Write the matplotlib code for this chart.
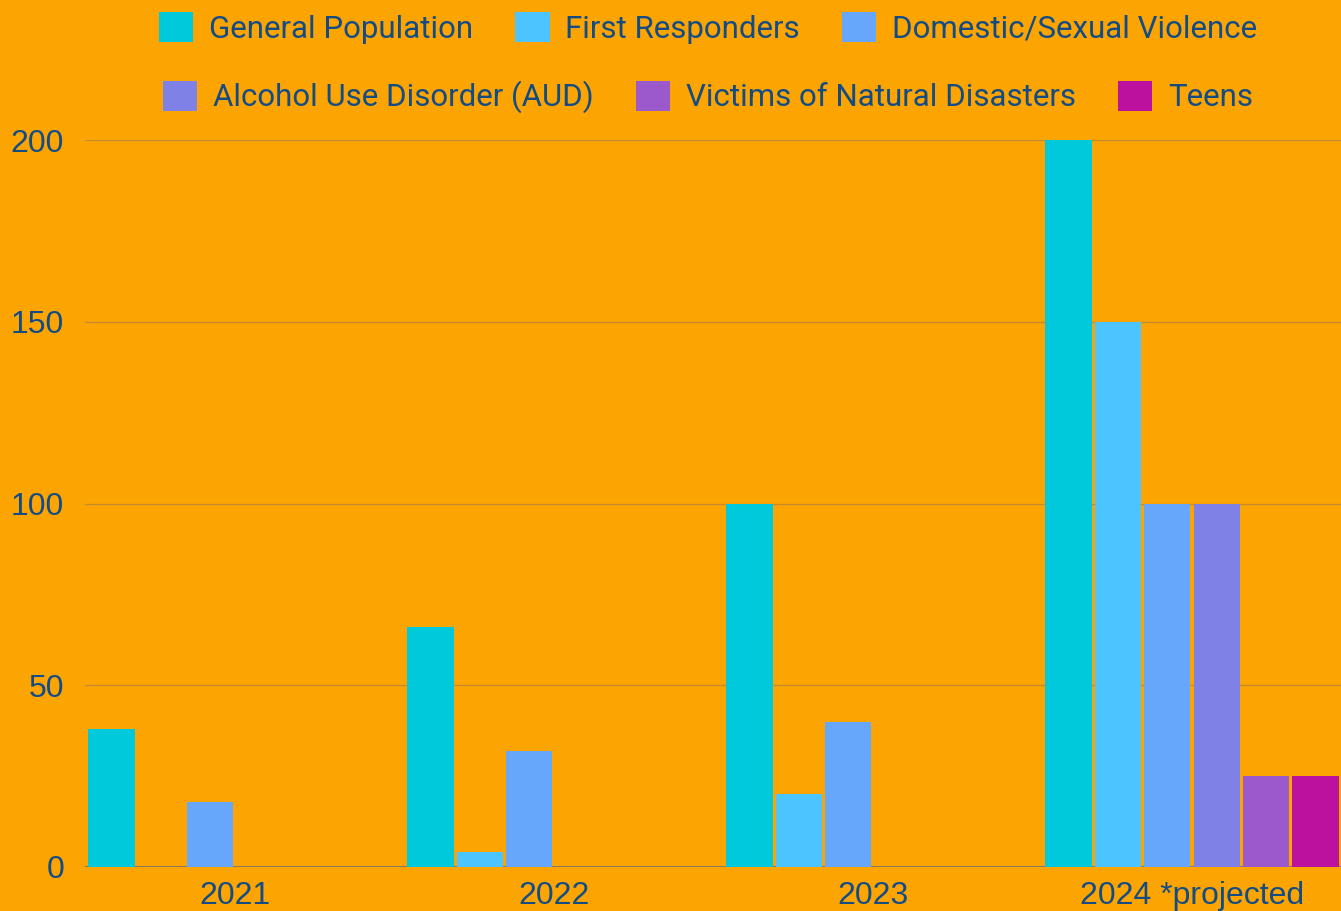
import matplotlib
matplotlib.use("Agg")
import matplotlib.pyplot as plt
import numpy as np

years = ["2021", "2022", "2023", "2024 *projected"]
series_names = ["General Population", "First Responders", "Domestic/Sexual Violence",
                "Alcohol Use Disorder (AUD)", "Victims of Natural Disasters", "Teens"]
general_population = [38, 66, 100, 200]
first_responders = [0, 4, 20, 150]
domestic_sexual_violence = [18, 32, 40, 100]
alcohol_use_disorder = [0, 0, 0, 100]
natural_disasters = [0, 0, 0, 25]
teens = [0, 0, 0, 25]
y_ticks = [0, 50, 100, 150, 200]

series = [general_population, first_responders, domestic_sexual_violence,
          alcohol_use_disorder, natural_disasters, teens]
colors = ["#00C9DB", "#4BC4FF", "#66A7FB", "#7F81E6", "#9B59CC", "#BB119E"]
bg = "#FCA502"
txt = "#134C85"

legend_font = "Roboto"
tick_font = "Liberation Sans"

fig = plt.figure(figsize=(13.41, 9.11), dpi=100, facecolor=bg)
ax = fig.add_axes([85/1341, 1-867/911, 1-85/1341, (867-140)/911])
ax.set_facecolor(bg)

x = np.arange(len(years))
step = 0.155
width = 0.145
handles = []
for k, (vals, c, name) in enumerate(zip(series, colors, series_names)):
    b = ax.bar(x + (k-2.5)*step, vals, width, color=c, label=name, zorder=3)
    handles.append(b)

ax.set_xlim((85-235)/319, (1341-235)/319)
ax.set_ylim(0, 200)
ax.set_yticks(y_ticks)
ax.set_xticks(x)
ax.set_xticklabels(years)
ax.grid(axis="y", color="#C48A2E", linewidth=0.9, zorder=0)
ax.axhline(0, color="#8C7A55", linewidth=1.5, zorder=2)
for s in ax.spines.values():
    s.set_visible(False)
ax.tick_params(axis="both", length=0, labelsize=23, labelcolor=txt)
ax.tick_params(axis="y", pad=15)
ax.tick_params(axis="x", pad=10)
for lab in ax.get_xticklabels() + ax.get_yticklabels():
    lab.set_fontfamily(tick_font)

legkw = dict(loc="center", ncol=3, frameon=False, handlelength=1.1, handleheight=1.1,
             handletextpad=0.5, columnspacing=1.35,
             prop={"family": legend_font, "size": 22.5}, labelcolor=txt)
fig.legend(handles[:3], series_names[:3], bbox_to_anchor=(708/1341, 1-28/911), **legkw)
fig.legend(handles[3:], series_names[3:], bbox_to_anchor=(708/1341, 1-97/911), **legkw)

fig.savefig("out.png", dpi=100, facecolor=bg)
